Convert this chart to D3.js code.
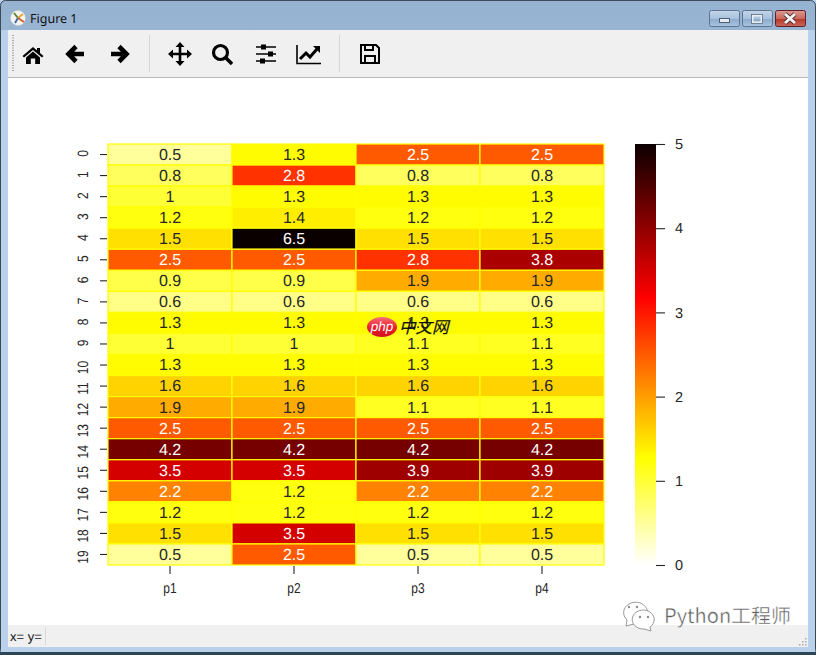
<!DOCTYPE html>
<html>
<head>
<meta charset="utf-8">
<script src="https://cdn.jsdelivr.net/npm/d3@7"></script>
<style>
  html, body { margin: 0; padding: 0; background: #fff; overflow: hidden; }
  svg { display: block; }
  text { font-family: "Liberation Sans", Arial, sans-serif; text-rendering: geometricPrecision; }
  .axis path { display: none; }
  .axis line { stroke: #262626; stroke-width: 1.1; }
  .axis text { fill: #262626; }
</style>
</head>
<body>
<svg id="fig" width="816" height="655"></svg>
<script>
// heatmap data, one array per column
var columns = ['p1', 'p2', 'p3', 'p4'];
var rows = d3.range(20);
var p1 = [0.5, 0.8, 1, 1.2, 1.5, 2.5, 0.9, 0.6, 1.3, 1, 1.3, 1.6, 1.9, 2.5, 4.2, 3.5, 2.2, 1.2, 1.5, 0.5];
var p2 = [1.3, 2.8, 1.3, 1.4, 6.5, 2.5, 0.9, 0.6, 1.3, 1, 1.3, 1.6, 1.9, 2.5, 4.2, 3.5, 1.2, 1.2, 3.5, 2.5];
var p3 = [2.5, 0.8, 1.3, 1.2, 1.5, 2.8, 1.9, 0.6, 1.3, 1.1, 1.3, 1.6, 1.1, 2.5, 4.2, 3.9, 2.2, 1.2, 1.5, 0.5];
var p4 = [2.5, 0.8, 1.3, 1.2, 1.5, 3.8, 1.9, 0.6, 1.3, 1.1, 1.3, 1.6, 1.1, 2.5, 4.2, 3.9, 2.2, 1.2, 1.5, 0.5];
var series = [p1, p2, p3, p4];
var barTicks = [0, 1, 2, 3, 4, 5];

// matplotlib hot_r, vmin 0 vmax 5
var hotStops = [0, 0.254, 0.635, 1];
var hotColors = ['#ffffff', '#ffff00', '#ff0000', '#0b0000'];
var color = d3.scaleLinear().domain(hotStops.map(function(d) { return d * 5; })).range(hotColors).clamp(true);

var svg = d3.select('#fig');
var defs = svg.append('defs');

function vgrad(id, stops) {
  var g = defs.append('linearGradient').attr('id', id).attr('x1', 0).attr('y1', 0).attr('x2', 0).attr('y2', 1);
  stops.forEach(function(s) { g.append('stop').attr('offset', s[0]).attr('stop-color', s[1]); });
}
vgrad('titleGrad', [[0, '#97b3d2'], [1, '#b9d1ea']]);
vgrad('btnGrad', [[0, '#c3d5e9'], [0.5, '#a9c2de'], [0.55, '#8eabcd'], [1, '#a8c4e0']]);
vgrad('closeGrad', [[0, '#dc9a92'], [0.5, '#c9695e'], [0.55, '#b8392c'], [1, '#c9685c']]);
vgrad('phpGrad', [[0, '#f5707a'], [0.5, '#ec2230'], [1, '#d0101c']]);

// window frame
svg.append('rect').attr('width', 816).attr('height', 655).attr('fill', '#b9d1ea');
svg.append('rect').attr('x', 0.5).attr('y', 0.5).attr('width', 815).attr('height', 654).attr('rx', 5)
  .attr('fill', 'url(#titleGrad)').attr('stroke', '#3c4a55');
svg.append('rect').attr('x', 1).attr('y', 30).attr('width', 814).attr('height', 623).attr('fill', '#b9d1ea');
svg.append('rect').attr('x', 8).attr('y', 30).attr('width', 800).attr('height', 617).attr('fill', '#ffffff');
svg.append('rect').attr('x', 0).attr('y', 652).attr('width', 816).attr('height', 3).attr('fill', '#2d4653');

// title bar
var icon = svg.append('g').attr('transform', 'translate(18,18)');
icon.append('circle').attr('r', 7.5).attr('fill', '#f4f4f0').attr('stroke', '#c9c9c2').attr('stroke-width', 0.5);
icon.append('path').attr('d', 'M0,0L-4,-5').attr('stroke', '#5a8a3c').attr('stroke-width', 2);
icon.append('path').attr('d', 'M0,0L5,-4').attr('stroke', '#e8a33a').attr('stroke-width', 2);
icon.append('path').attr('d', 'M0,0L6,4').attr('stroke', '#d9602b').attr('stroke-width', 2);
icon.append('path').attr('d', 'M0,0L-3,5').attr('stroke', '#3f6fa8').attr('stroke-width', 2);
svg.append('text').attr('x', 30).attr('y', 23).attr('font-size', 12.5)
  .style('font-family', '"Noto Sans", sans-serif').attr('fill', '#111').text('Figure 1');

// caption buttons
[[709, 'btnGrad'], [742, 'btnGrad'], [775, 'closeGrad']].forEach(function(b) {
  svg.append('rect').attr('x', b[0] + 0.5).attr('y', 10.5).attr('width', 30).attr('height', 16).attr('rx', 2)
    .attr('fill', 'url(#' + b[1] + ')').attr('stroke', b[1] === 'closeGrad' ? '#5e2026' : '#5d7390');
});
svg.append('rect').attr('x', 719.5).attr('y', 18.5).attr('width', 10).attr('height', 4).attr('fill', '#e8edf2').attr('stroke', '#4d5f75');
svg.append('rect').attr('x', 752.5).attr('y', 15.5).attr('width', 9).attr('height', 7).attr('fill', 'none').attr('stroke', '#e8edf2').attr('stroke-width', 2);
svg.append('rect').attr('x', 751.5).attr('y', 14.5).attr('width', 11).attr('height', 9).attr('fill', 'none').attr('stroke', '#4d5f75').attr('stroke-width', 0.7);
svg.append('path').attr('d', 'M785,14L795,23M795,14L785,23').attr('stroke', '#4c2a2a').attr('stroke-width', 4.4);
svg.append('path').attr('d', 'M785,14L795,23M795,14L785,23').attr('stroke', '#f2f2f2').attr('stroke-width', 3);

// toolbar
svg.append('rect').attr('x', 8).attr('y', 30).attr('width', 800).attr('height', 47).attr('fill', '#f0f0f0');
svg.append('rect').attr('x', 8).attr('y', 77).attr('width', 800).attr('height', 1).attr('fill', '#b9b9b9');
svg.append('line').attr('x1', 13).attr('x2', 13).attr('y1', 35).attr('y2', 72)
  .attr('stroke', '#a8a8a8').attr('stroke-width', 2).attr('stroke-dasharray', '1 1.5');
[149.5, 339.5].forEach(function(x) {
  svg.append('line').attr('x1', x).attr('x2', x).attr('y1', 35).attr('y2', 72).attr('stroke', '#d5d5d5');
});

function tool(x, y) { return svg.append('g').attr('transform', 'translate(' + x + ',' + y + ')'); }
// home
tool(33, 55).append('path').attr('fill', '#000')
  .attr('d', 'M0,-8L4,-4.6V-7H7V-2L10.5,1L9,2.6L0,-5L-9,2.6L-10.5,1ZM-7,2.5L0,-3.4L7,2.5V9H2.2V3.5H-2.2V9H-7Z');
// back and forward
tool(76, 54).append('path').attr('fill', 'none').attr('stroke', '#000').attr('stroke-width', 4.6)
  .attr('d', 'M8,0H-7M0,-7.5L-7.5,0L0,7.5');
tool(119, 54).append('path').attr('fill', 'none').attr('stroke', '#000').attr('stroke-width', 4.6)
  .attr('d', 'M-8,0H7M0,-7.5L7.5,0L0,7.5');
// pan
var pan = tool(180, 54);
pan.append('path').attr('stroke', '#000').attr('stroke-width', 2.6).attr('d', 'M-9,0H9M0,-9V9');
pan.append('path').attr('fill', '#000').attr('d', 'M0,-12L4.5,-7H-4.5ZM0,12L4.5,7H-4.5ZM-12,0L-7,-4.5V4.5ZM12,0L7,-4.5V4.5Z');
// zoom
var zoomIcon = tool(222, 54);
zoomIcon.append('circle').attr('cx', -1.5).attr('cy', -1.5).attr('r', 7).attr('fill', 'none').attr('stroke', '#000').attr('stroke-width', 3.2);
zoomIcon.append('path').attr('stroke', '#000').attr('stroke-width', 3.6).attr('d', 'M3.5,3.5L10,10');
// subplots
var sliders = tool(266, 54);
sliders.append('path').attr('stroke', '#000').attr('stroke-width', 1.5).attr('d', 'M-10,-7H10M-10,0H10M-10,7H10');
sliders.append('path').attr('fill', '#000').attr('d', 'M-5,-9.5H0V-4.5H-5ZM2,-2.5H7V2.5H2ZM-6,4.5H-1V9.5H-6Z');
// lines
var lineIcon = tool(309, 54);
lineIcon.append('path').attr('fill', 'none').attr('stroke', '#000').attr('stroke-width', 1.6).attr('d', 'M-12,-9V9.5H12');
lineIcon.append('path').attr('fill', 'none').attr('stroke', '#000').attr('stroke-width', 3).attr('d', 'M-9,5L-3,-1L1,3L8,-5');
lineIcon.append('path').attr('fill', '#000').attr('d', 'M4,-8H11V-1Z');
// save
var save = tool(370, 54);
save.append('path').attr('fill', 'none').attr('stroke', '#000').attr('stroke-width', 2)
  .attr('d', 'M-9,-9H6L9,-6V9H-9ZM-5,9V2H5V9M-5,-9V-4H3V-9');

// status bar
svg.append('rect').attr('x', 8).attr('y', 625).attr('width', 800).attr('height', 22).attr('fill', '#f0f0f0');
svg.append('text').attr('x', 10).attr('y', 641).attr('font-size', 13)
  .attr('fill', '#111').text('x= y=');
svg.append('line').attr('x1', 45.5).attr('x2', 45.5).attr('y1', 627).attr('y2', 645).attr('stroke', '#d8d8d8');
[[805, 638], [802, 641], [805, 641], [799, 644], [802, 644], [805, 644]].forEach(function(d) {
  svg.append('rect').attr('x', d[0]).attr('y', d[1]).attr('width', 1.5).attr('height', 1.5).attr('fill', '#a9a9a9');
});

// heatmap
var x = d3.scaleBand().domain(columns).range([108, 604]);
var y = d3.scaleBand().domain(rows).range([144, 565]);

function luminance(c) {
  var rgb = d3.rgb(c);
  var lin = [rgb.r, rgb.g, rgb.b].map(function(v) {
    v = v / 255;
    return v <= 0.03928 ? v / 12.92 : Math.pow((v + 0.055) / 1.055, 2.4);
  });
  return 0.2126 * lin[0] + 0.7152 * lin[1] + 0.0722 * lin[2];
}

var cells = [];
columns.forEach(function(col, i) {
  rows.forEach(function(row) { cells.push({col: col, row: row, value: series[i][row]}); });
});

svg.append('g').selectAll('rect').data(cells).join('rect')
  .attr('x', function(d) { return x(d.col); })
  .attr('y', function(d) { return y(d.row); })
  .attr('width', x.bandwidth())
  .attr('height', y.bandwidth())
  .attr('fill', function(d) { return color(d.value); })
  .attr('stroke', '#ffff00')
  .attr('stroke-width', 1.2);

svg.append('g').selectAll('text').data(cells).join('text')
  .attr('x', function(d) { return x(d.col) + x.bandwidth() / 2; })
  .attr('y', function(d) { return y(d.row) + y.bandwidth() / 2 + 5.4; })
  .attr('text-anchor', 'middle')
  .attr('font-size', 16)
  .attr('fill', function(d) { return luminance(color(d.value)) < 0.408 ? '#ffffff' : '#262626'; })
  .text(function(d) { return d.value; });

// axes
var xAxis = svg.append('g').attr('class', 'axis').attr('transform', 'translate(0,566)')
  .call(d3.axisBottom(x).tickSize(8).tickPadding(0));
xAxis.selectAll('text')
  .attr('font-size', 12)
  .attr('y', 0)
  .attr('dy', 0)
  .attr('transform', 'translate(0,27) scale(1,1.2)');

var yAxis = svg.append('g').attr('class', 'axis').attr('transform', 'translate(107,0)')
  .call(d3.axisLeft(y).tickSize(7).tickPadding(0));
yAxis.selectAll('text')
  .attr('font-size', 12)
  .attr('dy', 0)
  .attr('text-anchor', 'middle')
  .attr('x', 0)
  .attr('y', 0)
  .attr('transform', function(d) {
    // two digit labels sit a little lower than their tick
    var shift = d < 10 ? -1 : 2.5;
    return 'translate(-19,' + shift + ') rotate(-90) scale(1,1.25)';
  });

// colorbar
var barY = d3.scaleLinear().domain([0, 5]).range([565, 144]);
var barGrad = defs.append('linearGradient').attr('id', 'barGrad').attr('x1', 0).attr('y1', 1).attr('x2', 0).attr('y2', 0);
hotStops.forEach(function(s, i) {
  barGrad.append('stop').attr('offset', s).attr('stop-color', hotColors[i]);
});
svg.append('rect').attr('x', 635).attr('y', barY(5)).attr('width', 21).attr('height', barY(0) - barY(5))
  .attr('fill', 'url(#barGrad)');
var barAxis = svg.append('g').attr('class', 'axis').attr('transform', 'translate(656,0)')
  .call(d3.axisRight(barY).tickValues(barTicks).tickSize(9).tickPadding(10).tickFormat(d3.format('d')));
barAxis.selectAll('text').attr('font-size', 14.5);

// php watermark
svg.append('ellipse').attr('cx', 382).attr('cy', 327).attr('rx', 15).attr('ry', 10).attr('fill', 'url(#phpGrad)');
svg.append('text').attr('x', 382).attr('y', 331).attr('text-anchor', 'middle')
  .attr('font-size', 13.5).attr('font-style', 'italic').attr('fill', '#fff').text('php');
svg.append('text').attr('x', 399).attr('y', 333).attr('font-size', 16.5).attr('font-style', 'italic')
  .style('font-family', '"Noto Sans CJK SC", sans-serif').attr('fill', '#111')
  .attr('stroke', '#111').attr('stroke-width', 0.2).text('中文网');

// wechat watermark
var bubbles = svg.append('g').attr('fill', '#fff').attr('stroke', '#9a9a9a').attr('stroke-width', 1);
bubbles.append('path').attr('d', 'M626,626L627,620A12,10.5 0 1 1 638,623Z');
bubbles.append('path').attr('d', 'M651,631L650,627A11,9.5 0 1 0 644,629Z');
[[629, 607], [637, 607], [640, 617], [648, 617]].forEach(function(d) {
  svg.append('circle').attr('cx', d[0]).attr('cy', d[1]).attr('r', 1.2).attr('fill', '#8a8a8a');
});
svg.append('text').attr('x', 664).attr('y', 623).attr('font-size', 20)
  .style('font-family', '"Noto Sans CJK SC", "Liberation Sans", sans-serif')
  .attr('fill', '#5e5e5e').attr('stroke', '#ffffff').attr('stroke-width', 0.4)
  .text('Python工程师');
</script>
</body>
</html>
